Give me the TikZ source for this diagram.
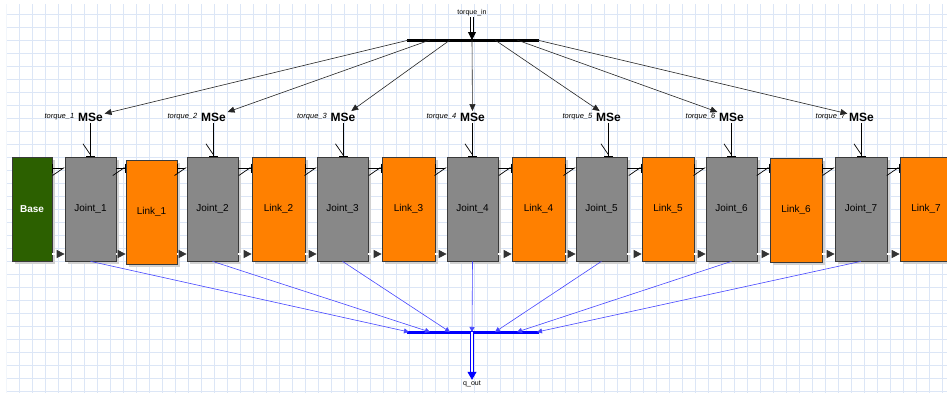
\documentclass[tikz,border=0pt]{standalone}
\usepackage{fontspec}
\setmainfont{Liberation Sans}
\usetikzlibrary{arrows.meta,positioning,shadows}
\definecolor{gridc}{HTML}{DCE6F6}
\definecolor{basec}{HTML}{2C6000}
\definecolor{jointc}{HTML}{888888}
\definecolor{linkc}{HTML}{FF8000}
\definecolor{edge}{HTML}{3A3A3A}
\definecolor{sig}{HTML}{4646FF}
\definecolor{bus}{HTML}{0000FF}
\tikzset{
  blk/.style={draw=edge,line width=.7pt,minimum width=51pt,minimum height=104pt,inner sep=0pt,font=\fontsize{10}{12}\selectfont,
    drop shadow={shadow xshift=3pt,shadow yshift=-3pt,fill=black!18,opacity=1}},
  basebox/.style={blk,fill=basec,text=white,font=\fontsize{10}{12}\selectfont\bfseries},
  joint/.style={blk,fill=jointc,text=black},
  link/.style={blk,fill=linkc,text=black},
  mse/.style={font=\fontsize{12}{14}\selectfont\bfseries,inner sep=1.5pt},
  lbl/.style={font=\fontsize{7.5}{9}\selectfont\itshape,inner sep=0pt},
  tinylbl/.style={font=\fontsize{7}{8}\selectfont,inner sep=1pt},
  bond/.style={draw=black,line width=.7pt},
  bondl/.style={bond,{Bar[width=9pt]}-{Straight Barb[harpoon,swap,length=11pt,width=15pt]}},
  bondr/.style={bond,-{Straight Barb[harpoon,swap,length=11pt,width=15pt]Bar[width=9pt]}},
  sigv/.style={draw=black!80,double=white,double distance=1.3pt,line width=.8pt,-{Triangle[length=8pt,width=8pt]}},
  sigk/.style={draw=black,double=white,double distance=1.5pt,line width=.8pt,-{Triangle[length=8pt,width=8pt]}},
  sigb/.style={draw=bus,double=white,double distance=1.5pt,line width=.8pt,-{Triangle[length=8pt,width=9pt]}},
  feed/.style={draw=black!85,line width=.6pt,-{Triangle[length=7pt,width=6pt]}},
  meas/.style={draw=sig,line width=.6pt,-{Triangle[length=5pt,width=5pt]}},
  junc/.style={line width=3pt},
}
\begin{document}
\begin{tikzpicture}[x=1pt,y=-1pt]
  \useasboundingbox (0,0) rectangle (947,392);
  \clip (0,0) rectangle (947,392);
  \fill[white] (0,0) rectangle (947,392);
  % background grid
  \begin{scope}
    \clip (6.7,4) rectangle (947,392);
    \begin{scope}[shift={(6.7,1.3)}]
      \draw[gridc,line width=.6pt,xstep=13pt,ystep=13pt] (0,0) grid (945,395);
    \end{scope}
  \end{scope}

  % chain of bodies
  \node[basebox,minimum width=40pt] (base) at (32,209) {Base};
  \node[joint] (j1) at (90.5,209) {Joint\_1};
  \node[link] (l1) at (151.5,212) {Link\_1};
  \node[joint] (j2) at (212.5,209) {Joint\_2};
  \node[link,minimum width=53pt] (l2) at (278.5,209) {Link\_2};
  \node[joint] (j3) at (342.5,209) {Joint\_3};
  \node[link,minimum width=53pt] (l3) at (408.5,209) {Link\_3};
  \node[joint] (j4) at (472.5,209) {Joint\_4};
  \node[link,minimum width=53pt] (l4) at (538.5,209) {Link\_4};
  \node[joint] (j5) at (601.5,209) {Joint\_5};
  \node[link,minimum width=52pt] (l5) at (668,209) {Link\_5};
  \node[joint] (j6) at (731.5,209) {Joint\_6};
  \node[link,minimum width=52pt] (l6) at (796,210) {Link\_6};
  \node[joint,minimum width=52pt] (j7) at (861,209) {Joint\_7};
  \node[link,minimum width=52pt] (l7) at (926,209) {Link\_7};

  % torque sources
  \foreach \i/\x in {1/90.5,2/213.5,3/343,4/472.5,5/608.5,6/731.5,7/861.5}{
    \node[mse] (m\i) at (\x,117) {MSe};
    \node[lbl,left=2pt of m\i] (tq\i) {torque\_\i};
  }
  \node[tinylbl] (tin) at (472,13) {torque\_in};
  \node[tinylbl] (qout) at (472,384) {q\_out};

  % junction bars
  \coordinate (tl) at (407,40); \coordinate (tr) at (539,40);
  \coordinate (bl) at (407,332); \coordinate (br) at (539,332);
  \draw[junc] (tl) -- (tr);
  \draw[junc,draw=bus] (bl) -- (br);
  \foreach \i/\x in {1/409,2/430,3/450,4/472,5/495,6/517,7/537}{
    \coordinate (t\i) at (\x,40); \coordinate (b\i) at (\x,332);
  }

  \coordinate (bondrow) at (0,168); \coordinate (sigrow) at (0,254);
  \foreach \a/\b/\s in {base/j1/bondl,j1/l1/bondr,l1/j2/bondl,j2/l2/bondr,l2/j3/bondl,j3/l3/bondr,l3/j4/bondl,
                        j4/l4/bondr,l4/j5/bondl,j5/l5/bondr,l5/j6/bondl,j6/l6/bondr,l6/j7/bondl,j7/l7/bondr}{
    \draw[\s] (\a.east |- bondrow) -- (\b.west |- bondrow);
    \draw[sigv] (\a.east |- sigrow) -- (\b.west |- sigrow);
  }
  \foreach \i in {1,...,7}{
    \draw[feed] (t\i) -- (m\i);
    \draw[bondr] (m\i.south) -- (m\i.south |- j\i.north);
    \draw[meas] (j\i.south) -- (b\i);
  }
  \draw[sigk] (tin) -- (t4);
  \draw[sigb] (b4) -- (qout);
\end{tikzpicture}
\end{document}
